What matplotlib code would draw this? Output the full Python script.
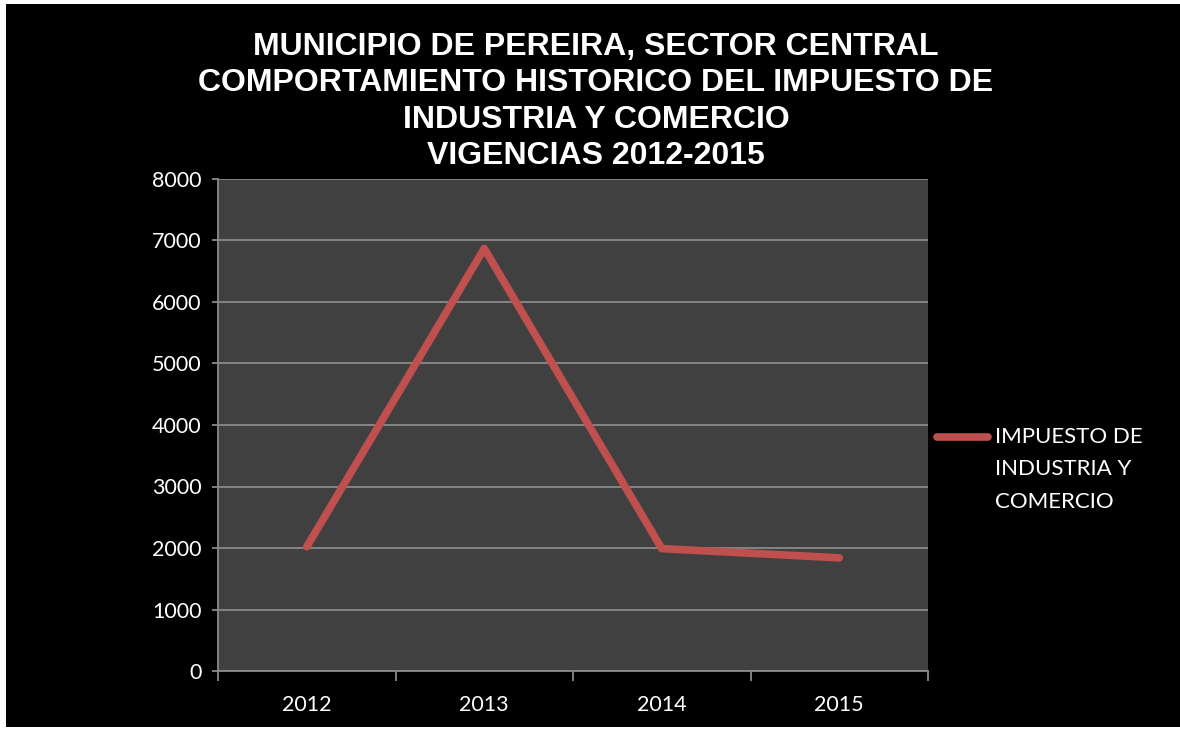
import matplotlib.pyplot as plt
from matplotlib.lines import Line2D
from matplotlib.patches import Rectangle

years = ['2012', '2013', '2014', '2015']
impuesto = [2020, 6870, 1990, 1840]
serie = 'IMPUESTO DE\nINDUSTRIA Y\nCOMERCIO'
titulo = ('MUNICIPIO DE PEREIRA, SECTOR CENTRAL\n'
          'COMPORTAMIENTO HISTORICO DEL IMPUESTO DE\n'
          'INDUSTRIA Y COMERCIO\n'
          'VIGENCIAS 2012-2015')

W, H = 1180, 731
fig = plt.figure(figsize=(W / 100, H / 100), dpi=100, facecolor='white')
# black slide background with the thin white margin of the screenshot
fig.add_artist(Rectangle((6 / W, 4 / H), 1 - 6 / W, 1 - 8 / H,
                         transform=fig.transFigure, facecolor='black',
                         edgecolor='none', zorder=-10))

ax = fig.add_axes([218 / W, (H - 671) / H, (928 - 218) / W, (671 - 179) / H])
ax.set_facecolor('#404040')

x = list(range(len(years)))
ax.plot(x, impuesto, color='#C0504D', lw=5.5, solid_capstyle='round',
        solid_joinstyle='round', zorder=3)

ax.set_xlim(-0.5, len(years) - 0.5)
ax.set_ylim(0, 8000)
ax.set_yticks(range(0, 8001, 1000))
ax.set_xticks(x)
ax.set_xticklabels(years)
ax.set_xticks([i - 0.5 for i in range(len(years) + 1)], minor=True)

ax.grid(axis='y', color='#8a8a8a', lw=1.3, zorder=1)
ax.set_axisbelow(True)

for s in ['top', 'right']:
    ax.spines[s].set_visible(False)
for s in ['left', 'bottom']:
    ax.spines[s].set_color('#8a8a8a')
    ax.spines[s].set_linewidth(1.3)

ax.tick_params(axis='y', colors='#8a8a8a', length=4, width=1.3, pad=8,
               labelcolor='white', labelsize=15.5)
ax.tick_params(axis='x', which='major', length=0, pad=17,
               labelcolor='white', labelsize=15.5)
ax.tick_params(axis='x', which='minor', colors='#8a8a8a', length=7, width=1.3)
for lab in ax.get_xticklabels() + ax.get_yticklabels():
    lab.set_fontfamily('Lato')

fig.text(596 / W, 1 - 32 / H, titulo, ha='center', va='top', color='white',
         fontsize=23, fontweight='bold', family='Liberation Sans',
         linespacing=1.28)

# legend drawn by hand so the key sits on the first text line
fig.add_artist(Line2D([937 / W, 988 / W], [1 - 437 / H, 1 - 437 / H],
                      transform=fig.transFigure, color='#C0504D', lw=5.5,
                      solid_capstyle='round'))
fig.text(995 / W, 1 - 427 / H, serie, ha='left', va='top', color='white',
         fontsize=16, family='Lato', linespacing=1.78)

fig.savefig('out.png', dpi=100, facecolor=fig.get_facecolor())
